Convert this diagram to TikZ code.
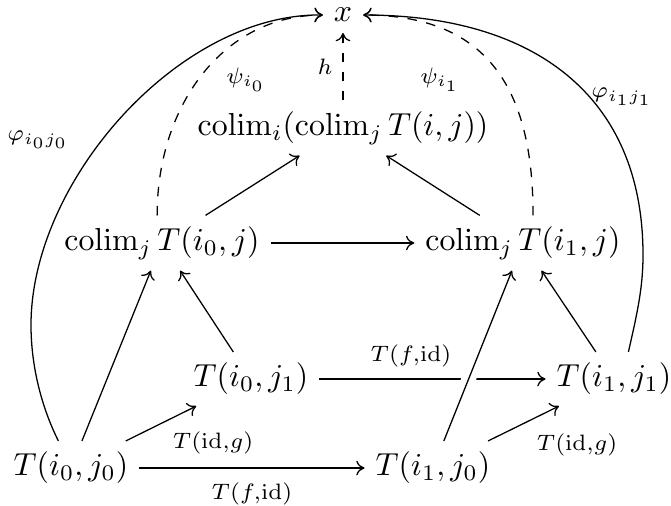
\documentclass[tikz,border=0pt]{standalone}
\usepackage{amsmath}
\usetikzlibrary{arrows.meta}
\begin{document}
\begin{tikzpicture}[x=0.314pt,y=-0.314pt,
  arr/.style={-{To[length=2.6pt,width=4.6pt]}, line width=0.4pt},
  darr/.style={arr, dashed},
  obj/.style={inner sep=3.3pt},
  lbl/.style={inner sep=1pt}]
\useasboundingbox (0,0) rectangle (671,505);
\node[obj] (x) at (343,15) {$x$};
\node[obj] (ci) at (343,128) {$\operatorname{colim}_i(\operatorname{colim}_j T(i,j))$};
\node[obj] (c0) at (162,243) {$\operatorname{colim}_j T(i_0,j)$};
\node[obj] (c1) at (523,243) {$\operatorname{colim}_j T(i_1,j)$};
\node[obj] (a01) at (251,379) {$T(i_0,j_1)$};
\node[obj] (a11) at (614,379) {$T(i_1,j_1)$};
\node[obj] (a00) at (71,468) {$T(i_0,j_0)$};
\node[obj] (a10) at (433,468) {$T(i_1,j_0)$};
% labels
\node[lbl] (lfb) at (252,494) {$\scriptstyle T(f,\mathrm{id})$};
\node[lbl] (lft) at (411,356) {$\scriptstyle T(f,\mathrm{id})$};
\node[lbl] (lg0) at (213,443) {$\scriptstyle T(\mathrm{id},g)$};
\node[lbl] (lg1) at (577,445) {$\scriptstyle T(\mathrm{id},g)$};
\node[lbl] (lh) at (325,67) {$\scriptstyle h$};
\node[lbl] (lp0) at (246,80) {$\scriptstyle \psi_{i_0}$};
\node[lbl] (lp1) at (440,80) {$\scriptstyle \psi_{i_1}$};
\node[lbl] (lf0) at (38,140) {$\scriptstyle \varphi_{i_0j_0}$};
\node[lbl] (lf1) at (622,97) {$\scriptstyle \varphi_{i_1j_1}$};
% arrows
\draw[arr] (a00) -- (a10);
\draw[arr] (a00) -- (a01);
\draw[arr] (a10) -- (a11);
\draw[arr] (a01) -- (a11);
\draw[arr] (a00) -- (c0);
\draw[arr] (a01) -- (c0);
\draw[white, line width=4.5pt, shorten >=4pt, shorten <=4pt] (a10) -- (c1);
\draw[arr] (a10) -- (c1);
\draw[arr] (a11) -- (c1);
\draw[arr] (c0) -- (c1);
\draw[arr] (c0) -- (ci);
\draw[arr] (c1) -- (ci);
\draw[darr] (ci) -- (x);
\draw[darr] (c0.100) .. controls (157,106) and (223,15) .. (x.west);
\draw[darr] (c1.70) .. controls (533,96) and (493,15) .. (x.east);
\coordinate (kl) at (31,325);
\coordinate (kr) at (643,255);
\draw[arr] (a00.115) .. controls (41,406) and (31,365) .. (kl)
  .. controls (31,180) and (180,13) .. (x.west);
\draw[arr] (a11.62) .. controls (636,318) and (643,290) .. (kr)
  .. controls (643,95) and (533,15) .. (x.east);
\end{tikzpicture}
\end{document}
